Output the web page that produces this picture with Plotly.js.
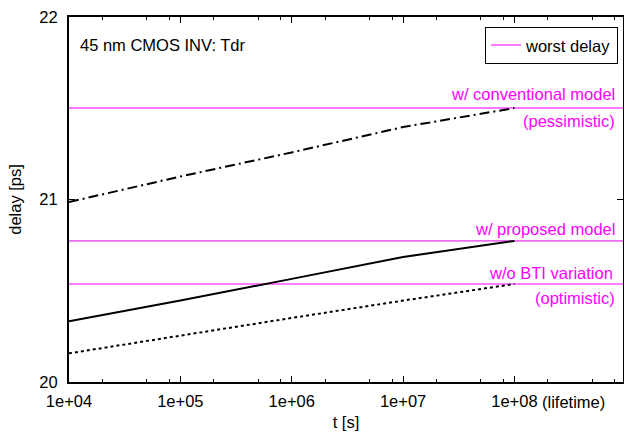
<!DOCTYPE html>
<html>
<head>
<meta charset="utf-8">
<script src="https://cdn.plot.ly/plotly-3.0.1.min.js"></script>
<style>html,body{margin:0;padding:0;background:#fff;}#chart{width:624px;height:434px;}</style>
</head>
<body>
<div id="chart"></div>
<script>
// data
const tValues = [1e4, 1e5, 1e6, 1e7, 1e8];
const conventionalDelay = [20.986, 21.126, 21.258, 21.397, 21.501];
const proposedDelay = [20.333, 20.446, 20.565, 20.685, 20.773];
const noVariationDelay = [20.157, 20.256, 20.351, 20.446, 20.537];
const worstSpan = [1e4, 1e9];
const worstConventional = [21.501, 21.501];
const worstProposed = [20.773, 20.773];
const worstNoVariation = [20.537, 20.537];
const xTickVals = [1e4, 1e5, 1e6, 1e7, 1e8];
const xTickText = ['1e+04', '1e+05', '1e+06', '1e+07', '1e+08'];
const yTickVals = [20, 21, 22];
const minorVals = [];
[1e4, 1e5, 1e6, 1e7, 1e8].forEach(d => { [2, 5, 8].forEach(m => minorVals.push(d * m)); });

const FONT = 'Liberation Sans, Arial, Helvetica, sans-serif';
const FS = 16.5;
const MAG = '#ff00ff';

const traces = [
  {x: worstSpan, y: worstConventional, mode: 'lines', name: 'worst delay',
   line: {color: 'rgb(255,120,255)', width: 2}, showlegend: true},
  {x: worstSpan, y: worstProposed, mode: 'lines', line: {color: '#e000e0', width: 1}, showlegend: false},
  {x: worstSpan, y: worstNoVariation, mode: 'lines', line: {color: MAG, width: 1}, showlegend: false},
  {x: tValues, y: conventionalDelay, mode: 'lines', line: {color: '#000', width: 2, dash: '10px,4px,2px,4px'}, showlegend: false},
  {x: tValues, y: proposedDelay, mode: 'lines', line: {color: '#000', width: 2}, showlegend: false},
  {x: tValues, y: noVariationDelay, mode: 'lines', line: {color: '#000', width: 2, dash: '3px,3px'}, showlegend: false}
];

const annColor = MAG;
const annotations = [
  {xref: 'paper', yref: 'paper', x: 0.016, y: 0.923, xanchor: 'left', yanchor: 'middle', showarrow: false,
   text: '45 nm CMOS INV: Tdr', font: {size: FS, color: '#000', family: FONT}},
  {xref: 'paper', yref: 'y', x: 0.99, y: 21.578, xanchor: 'right', yanchor: 'middle', showarrow: false,
   text: 'w/ conventional model', font: {size: FS, color: annColor, family: FONT}},
  {xref: 'paper', yref: 'y', x: 0.99, y: 21.43, xanchor: 'right', yanchor: 'middle', showarrow: false,
   text: '(pessimistic)', font: {size: FS, color: annColor, family: FONT}},
  {xref: 'paper', yref: 'y', x: 0.99, y: 20.838, xanchor: 'right', yanchor: 'middle', showarrow: false,
   text: 'w/ proposed model', font: {size: FS, color: annColor, family: FONT}},
  {xref: 'paper', yref: 'y', x: 0.986, y: 20.597, xanchor: 'right', yanchor: 'middle', showarrow: false,
   text: 'w/o BTI variation', font: {size: FS, color: annColor, family: FONT}},
  {xref: 'paper', yref: 'y', x: 0.99, y: 20.46, xanchor: 'right', yanchor: 'middle', showarrow: false,
   text: '(optimistic)', font: {size: FS, color: annColor, family: FONT}},
  {xref: 'paper', yref: 'paper', x: 0.85, y: 0, yshift: -20, xanchor: 'left', yanchor: 'middle', showarrow: false,
   text: '(lifetime)', font: {size: FS, color: '#000', family: FONT}}
];

const layout = {
  width: 624, height: 434,
  margin: {l: 69, r: 1, t: 17, b: 52},
  paper_bgcolor: '#fff', plot_bgcolor: '#fff',
  font: {family: FONT, size: FS, color: '#000'},
  showlegend: true,
  legend: {x: 0.991, y: 0.973, xanchor: 'right', yanchor: 'top', bordercolor: '#000', borderwidth: 1,
           bgcolor: '#fff', font: {size: FS, family: FONT}, itemwidth: 30},
  xaxis: {type: 'log', range: [4, 8.975], tickvals: xTickVals, ticktext: xTickText,
          ticks: 'inside', ticklen: 6, tickcolor: '#000', mirror: 'ticks', showline: true, linecolor: '#000', linewidth: 2,
          showgrid: false, zeroline: false, tickfont: {size: FS}, ticklabelstandoff: 3,
          minor: {tickvals: minorVals, ticks: 'inside', ticklen: 3, tickcolor: '#000'},
          title: {text: 't [s]', font: {size: FS}, standoff: 8}},
  yaxis: {range: [20, 22], tickvals: yTickVals, ticks: 'inside', ticklen: 6, tickcolor: '#000',
          mirror: 'ticks', showline: true, linecolor: '#000', linewidth: 2, showgrid: false, zeroline: false,
          tickfont: {size: FS}, ticklabelstandoff: 6, title: {text: 'delay [ps]', font: {size: FS}, standoff: 14}},
  annotations: annotations
};

Plotly.newPlot('chart', traces, layout, {displayModeBar: false, staticPlot: true});
</script>
</body>
</html>
